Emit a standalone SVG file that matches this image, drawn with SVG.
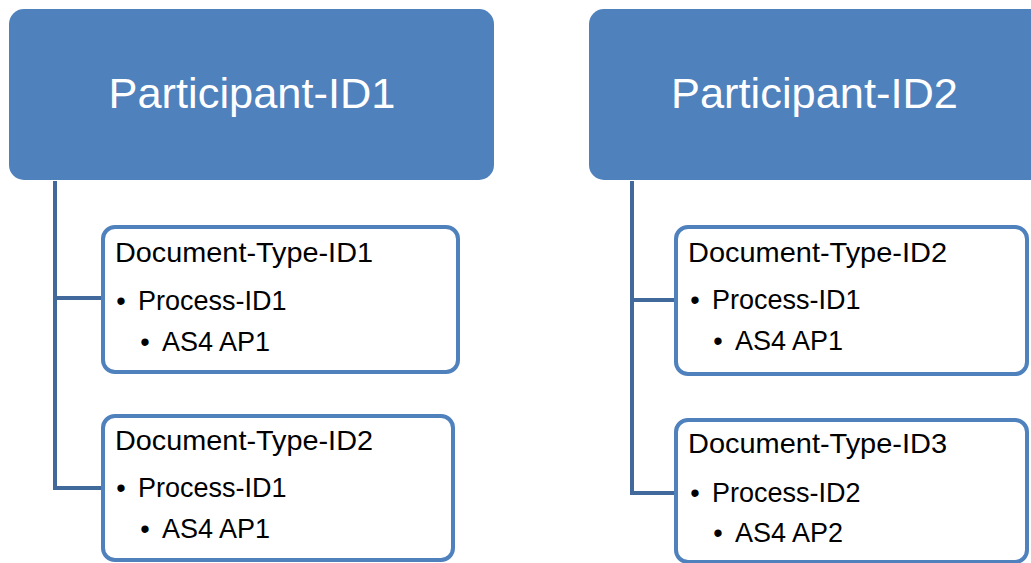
<svg xmlns="http://www.w3.org/2000/svg" width="1031" height="563" viewBox="0 0 1031 563">
<style>
.part{fill:#4F81BD;}
.ptxt{font-family:"Liberation Sans",Arial,sans-serif;font-size:43px;fill:#ffffff;text-anchor:middle;}
.doc{fill:#ffffff;stroke:#4F81BD;stroke-width:4;}
.t{font-family:"Liberation Sans",Arial,sans-serif;font-size:27px;fill:#000000;}
.h{font-family:"Liberation Sans",Arial,sans-serif;font-size:28px;fill:#000000;}
.b{font-family:"Liberation Sans",Arial,sans-serif;font-size:27px;fill:#000000;text-anchor:middle;}
.conn{fill:none;stroke:#41699C;stroke-width:4;}
</style>
<rect width="1031" height="563" fill="#ffffff"/>
<g id="connectors">
<path class="conn" d="M55 181 V488 H103"/>
<path class="conn" d="M55 298 H103"/>
<path class="conn" d="M632 181 V493 H676"/>
<path class="conn" d="M632 300 H676"/>
</g>
<g id="participant1">
<rect class="part" x="9" y="9" width="485" height="171" rx="15"/>
<text class="ptxt" x="252" y="108" textLength="287" lengthAdjust="spacingAndGlyphs">Participant-ID1</text>
</g>
<g id="participant2">
<rect class="part" x="589" y="9" width="480" height="171" rx="15"/>
<text class="ptxt" x="814.5" y="108" textLength="287" lengthAdjust="spacingAndGlyphs">Participant-ID2</text>
</g>
<g id="doc1">
<rect class="doc" x="103" y="227" width="355" height="145" rx="12"/>
<text class="h" x="115" y="262" textLength="258" lengthAdjust="spacingAndGlyphs">Document-Type-ID1</text>
<text class="b" x="121" y="310">•</text>
<text class="t" x="138" y="310">Process-ID1</text>
<text class="b" x="145" y="351">•</text>
<text class="t" x="162" y="351">AS4 AP1</text>
</g>
<g id="doc2">
<rect class="doc" x="103" y="416" width="350" height="144" rx="12"/>
<text class="h" x="115" y="450" textLength="258" lengthAdjust="spacingAndGlyphs">Document-Type-ID2</text>
<text class="b" x="121" y="497">•</text>
<text class="t" x="138" y="497">Process-ID1</text>
<text class="b" x="145" y="538">•</text>
<text class="t" x="162" y="538">AS4 AP1</text>
</g>
<g id="doc3">
<rect class="doc" x="676" y="227" width="351" height="147" rx="12"/>
<text class="h" x="688" y="262" textLength="259" lengthAdjust="spacingAndGlyphs">Document-Type-ID2</text>
<text class="b" x="695" y="309">•</text>
<text class="t" x="712" y="309">Process-ID1</text>
<text class="b" x="718" y="350">•</text>
<text class="t" x="735" y="350">AS4 AP1</text>
</g>
<g id="doc4">
<rect class="doc" x="676" y="420" width="351" height="142" rx="12"/>
<text class="h" x="688" y="453" textLength="259" lengthAdjust="spacingAndGlyphs">Document-Type-ID3</text>
<text class="b" x="695" y="502">•</text>
<text class="t" x="712" y="502">Process-ID2</text>
<text class="b" x="718" y="542">•</text>
<text class="t" x="735" y="542">AS4 AP2</text>
</g>
</svg>
